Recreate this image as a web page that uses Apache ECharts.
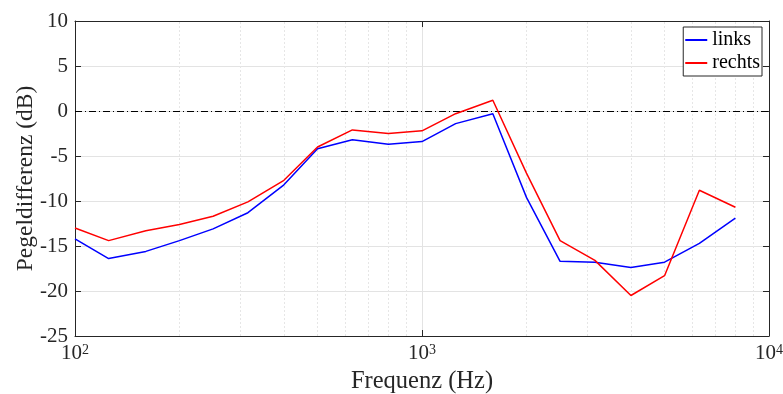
<!DOCTYPE html>
<html><head><meta charset="utf-8">
<script src="https://cdn.jsdelivr.net/npm/echarts@6/dist/echarts.min.js"></script>
<style>html,body{margin:0;padding:0;background:#fff}#c{width:783px;height:394px}</style>
</head><body><div id="c"></div>
<script>
const freqs = [100,125,160,200,250,315,400,500,630,800,1000,1250,1600,2000,2500,3150,4000,5000,6300,8000];
const links = [-14.2,-16.4,-15.6,-14.4,-13.1,-11.3,-8.2,-4.2,-3.2,-3.7,-3.4,-1.4,-0.3,-9.6,-16.7,-16.8,-17.4,-16.8,-14.7,-11.9];
const rechts = [-13.0,-14.4,-13.3,-12.6,-11.7,-10.1,-7.7,-4.0,-2.1,-2.5,-2.2,-0.3,1.2,-6.9,-14.4,-16.6,-20.5,-18.3,-8.8,-10.7];
const minorGrid = [200,300,400,500,600,700,800,900,2000,3000,4000,5000,6000,7000,8000,9000];

const FONT = 'Liberation Serif';
const axisCol = '#262626';
const chart = echarts.init(document.getElementById('c'), null, {renderer:'canvas'});
const pairs = a => freqs.map((f,i)=>[f,a[i]]);
const xBase = {
  type:'log', logBase:10, min:100, max:10000,
  axisLine:{show:true, onZero:false, lineStyle:{color:axisCol, width:1}},
  axisTick:{show:true, inside:true, length:6, lineStyle:{color:axisCol}},
};
const yBase = {
  type:'value', min:-25, max:10, interval:5,
  axisLine:{show:true, onZero:false, lineStyle:{color:axisCol, width:1}},
  axisTick:{show:true, inside:true, length:6, lineStyle:{color:axisCol}},
};
chart.setOption({
  animation:false,
  grid:{left:75, right:14, top:21, bottom:58, containLabel:false, outerBoundsMode:'none'},
  xAxis:[
    Object.assign({}, xBase, {
      position:'bottom',
      name:'Frequenz (Hz)', nameLocation:'middle', nameGap:33,
      nameTextStyle:{fontFamily:FONT, fontSize:24.5, color:'#262626'},
      axisLabel:{margin:7,
        formatter:v=>'{b|10}{s|'+Math.round(Math.log10(v))+'}',
        rich:{b:{fontFamily:FONT,fontSize:21,color:'#262626',verticalAlign:'bottom'},
              s:{fontFamily:FONT,fontSize:14,color:'#262626',verticalAlign:'top'}}},
      splitLine:{show:true, lineStyle:{color:'#e3e3e3', width:1}}
    }),
    Object.assign({}, xBase, {position:'top', axisLabel:{show:false}, splitLine:{show:false}})
  ],
  yAxis:[
    Object.assign({}, yBase, {
      position:'left',
      name:'Pegeldifferenz (dB)', nameLocation:'middle', nameGap:37, nameMoveOverlap:false,
      nameTextStyle:{fontFamily:FONT, fontSize:23.5, color:'#262626'},
      axisLabel:{margin:7, fontFamily:FONT, fontSize:21, color:'#262626'},
      splitLine:{show:true, lineStyle:{color:'#e3e3e3', width:1}}
    }),
    Object.assign({}, yBase, {position:'right', axisLabel:{show:false}, splitLine:{show:false}})
  ],
  legend:{
    right:21, top:27, orient:'vertical', z:50,
    backgroundColor:'#fff', borderColor:'#262626', borderWidth:1,
    padding:[3,2,3,2], itemGap:3, itemWidth:22, itemHeight:2, icon:'rect',
    textStyle:{fontFamily:FONT, fontSize:20, color:'#000', lineHeight:20},
    data:['links','rechts']
  },
  series:[
    {name:'grid', type:'line', data:[], silent:true, z:1,
     markLine:{silent:true, symbol:'none', label:{show:false},
       lineStyle:{color:'#e6e6e6', type:[2,2], width:1},
       data: minorGrid.map(v=>({xAxis:v}))}},
    {name:'zero', type:'line', data:[], silent:true, z:2,
     markLine:{silent:true, symbol:'none', label:{show:false},
       lineStyle:{color:'#000', type:[7,3,1,3], width:1},
       data:[{yAxis:0}]}},
    {name:'links', type:'line', data:pairs(links), showSymbol:false, symbol:'none',
     lineStyle:{color:'#0000ff', width:1.5}, itemStyle:{color:'#0000ff'}, z:5},
    {name:'rechts', type:'line', data:pairs(rechts), showSymbol:false, symbol:'none',
     lineStyle:{color:'#ff0000', width:1.5}, itemStyle:{color:'#ff0000'}, z:6}
  ]
});
</script></body></html>
